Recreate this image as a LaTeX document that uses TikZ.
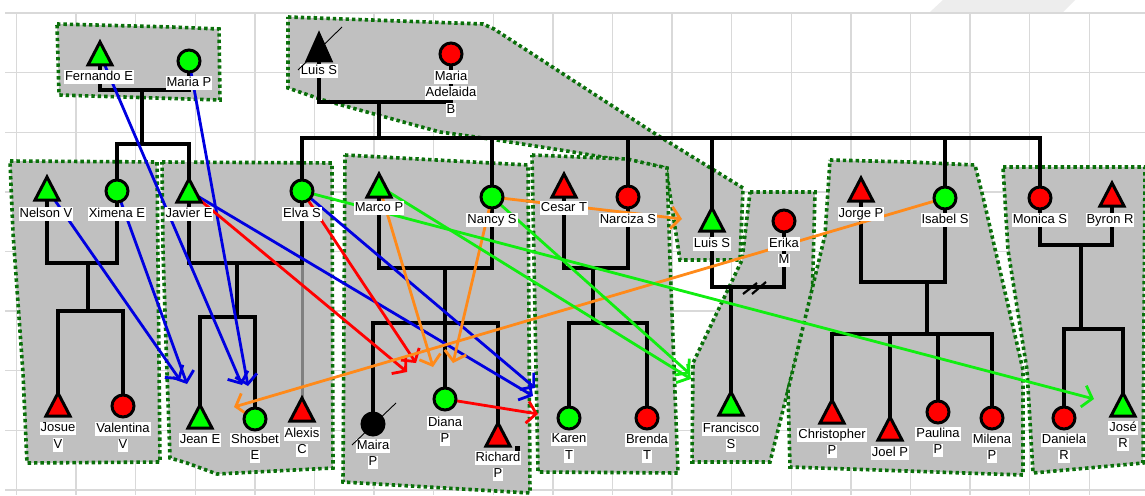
\documentclass[tikz,border=0pt]{standalone}
\usepackage{fontspec}
\setmainfont{Liberation Sans}
\usetikzlibrary{arrows.meta}
\definecolor{grpfill}{HTML}{C0C0C0}
\definecolor{grpbord}{HTML}{0A700A}
\definecolor{gridc}{HTML}{D9D9D9}
\definecolor{sgreen}{HTML}{00FF00}
\definecolor{sred}{HTML}{FF0000}
\definecolor{ablue}{HTML}{0000E0}
\definecolor{ared}{HTML}{FF0000}
\definecolor{aorange}{HTML}{FF8A1A}
\definecolor{agreen}{HTML}{11EE11}
\setlength{\fboxsep}{1pt}
\newcommand\lb[1]{\colorbox{white}{\rule[-2.5pt]{0pt}{10.5pt}#1}}
\begin{document}
\begin{tikzpicture}[x=1pt,y=-1pt,
  fam/.style={line width=3.6pt,black,line cap=rect},
  sym/.style={line width=3pt,draw=black,line join=miter},
  grp/.style={fill=grpfill,draw=grpbord,line width=3.6pt,dash pattern=on 3.4pt off 3pt},
  arr/.style={line width=2.8pt,-{Straight Barb[length=9pt,width=22pt]}},
  lbl/.style={inner sep=0pt,font=\fontsize{13}{16.5}\selectfont,align=center},
  pt/.style={inner sep=0pt,minimum size=0pt},
  pics/male/.style={code={\draw[sym,fill=#1] (0,-12) -- (12,11) -- (-12,11) -- cycle;}},
  pics/female/.style={code={\draw[sym,fill=#1] (0,0) circle (11);}},
]
\useasboundingbox (0,0) rectangle (1145,495);
\fill[white] (0,0) rectangle (1145,495);
\fill[black!7] (930,12) -- (1063,12) -- (1075,0) -- (943,0) -- cycle;
% grid
\foreach \i in {0,...,18} \draw[gridc,line width=1.4pt] ({16.5+59.6*\i},13) -- ({16.5+59.6*\i},495);
\foreach \j in {0,...,8} \draw[gridc,line width=1.4pt] (5,{13+59.6*\j}) -- (1145,{13+59.6*\j});
% groups
\draw[grp] (57,24) -- (172,27) -- (219,29) -- (220,100) -- (59,95) -- cycle;
\draw[grp] (288,17) -- (483,24) -- (494,29) -- (657,135) -- (743,188) -- (740,260) -- (680,260) -- (666,168) -- (573,152) -- (497,140) -- (440,132) -- (323,100) -- (288,88) -- cycle;
\draw[grp] (10,161) -- (157,162) -- (160,462) -- (27,463) -- (23,373) -- (13,233) -- cycle;
\draw[grp] (162,162) -- (332,163) -- (333,468) -- (217,474) -- (187,463) -- (170,458) -- (167,373) -- (163,250) -- cycle;
\draw[grp] (345,155) -- (528,165) -- (530,493) -- (343,482) -- cycle;
\draw[grp] (532,155) -- (627,159) -- (667,168) -- (670,260) -- (678,473) -- (538,472) -- cycle;
\draw[grp] (750,192) -- (815,192) -- (812,305) -- (788,390) -- (770,462) -- (692,462) -- (693,363) -- (742,260) -- cycle;
\draw[grp] (830,160) -- (910,162) -- (975,165) -- (983,197) -- (1023,370) -- (1023,475) -- (790,467) -- (788,390) -- (825,235) -- cycle;
\draw[grp] (1003,167) -- (1145,167) -- (1143,463) -- (1033,473) -- (1027,370) -- (1008,250) -- cycle;
% persons
\node[pt] (fer) at (100,54) {};
\node[pt] (mp) at (189,61) {};
\node[pt] (luis1) at (319,48) {};
\node[pt] (ma) at (451,54) {};
\node[pt] (nel) at (47,189) {};
\node[pt] (xim) at (117,191) {};
\node[pt] (jav) at (189,191) {};
\node[pt] (elva) at (302,191) {};
\node[pt] (marco) at (379,186) {};
\node[pt] (nancy) at (492,197) {};
\node[pt] (cesar) at (564,186) {};
\node[pt] (narc) at (628,197) {};
\node[pt] (luis2) at (712,220) {};
\node[pt] (erika) at (784,221) {};
\node[pt] (jorge) at (861,190) {};
\node[pt] (isabel) at (945,198) {};
\node[pt] (monica) at (1040,198) {};
\node[pt] (byron) at (1112,195) {};
\node[pt] (josue) at (58,405) {};
\node[pt] (val) at (123,406) {};
\node[pt] (jean) at (200,417) {};
\node[pt] (shos) at (255,419) {};
\node[pt] (alexis) at (302,410) {};
\node[pt] (maira) at (373,424) {};
\node[pt] (diana) at (445,399) {};
\node[pt] (richard) at (498,435) {};
\node[pt] (karen) at (569,418) {};
\node[pt] (brenda) at (647,418) {};
\node[pt] (fran) at (731,404) {};
\node[pt] (chris) at (832,412) {};
\node[pt] (joel) at (890,429) {};
\node[pt] (paul) at (938,412) {};
\node[pt] (mil) at (992,418) {};
\node[pt] (dan) at (1064,418) {};
\node[pt] (jose) at (1123,405) {};
% family lines
\coordinate (u1) at (142,90); \coordinate (s1) at (142,144);
\draw[fam] (fer) |- (u1) -| (mp);
\draw[fam] (u1) -- (s1);
\draw[fam] (xim) |- (s1) -| (jav);
\coordinate (u2) at (379,102); \coordinate (s2) at (379,138);
\draw[fam] (luis1) |- (u2) -| (ma);
\draw[fam] (u2) -- (s2);
\draw[fam] (elva) |- (s2) -| (monica);
\foreach \c in {nancy,narc,luis2,isabel} \draw[fam] (\c |- s2) -- (\c);
\coordinate (u3) at (88,263); \coordinate (s3) at (88,311);
\draw[fam] (nel) |- (u3) -| (xim);
\draw[fam] (u3) -- (s3);
\draw[fam] (josue) |- (s3) -| (val);
\coordinate (u4) at (237,263); \coordinate (s4) at (237,317);
\draw[gray,line width=3pt] (elva |- u4) -- (alexis);
\draw[fam] (jav) |- (u4) -| (elva);
\draw[fam] (u4) -- (s4);
\draw[fam] (jean) |- (s4) -| (shos);
\coordinate (u5) at (445,268); \coordinate (s5) at (445,323);
\draw[fam] (marco) |- (u5) -| (nancy);
\draw[fam] (u5) -- (s5);
\draw[fam] (maira) |- (s5) -| (richard);
\draw[fam] (diana |- s5) -- (diana);
\coordinate (u6) at (593,268); \coordinate (s6) at (593,323);
\draw[fam] (cesar) |- (u6) -| (narc);
\draw[fam] (u6) -- (s6);
\draw[fam] (karen) |- (s6) -| (brenda);
\coordinate (u7) at (731,287);
\draw[fam] (luis2) |- (u7) -| (erika);
\draw[fam] (u7) -- (fran);
\draw[line width=2.2pt] (743,294) -- (757,283) (752,294) -- (766,282);
\coordinate (u8) at (927,282); \coordinate (s8) at (927,334);
\draw[fam] (jorge) |- (u8) -| (isabel);
\draw[fam] (u8) -- (s8);
\draw[fam] (chris) |- (s8) -| (mil);
\draw[fam] (joel |- s8) -- (joel);
\draw[fam] (paul |- s8) -- (paul);
\coordinate (u9) at (1081,245); \coordinate (s9) at (1081,329);
\draw[fam] (monica) |- (u9) -| (byron);
\draw[fam] (u9) -- (s9);
\draw[fam] (dan) |- (s9) -| (jose);
% arrow ends
\coordinate (a1) at (180,380);
\coordinate (a2) at (187,384);
\coordinate (a3) at (242,385);
\coordinate (a4) at (248,386);
\coordinate (a5) at (533,396);
\coordinate (a6) at (535,388);
\coordinate (a7) at (407,372);
\coordinate (a8) at (416,363);
\coordinate (a9) at (538,414);
\coordinate (a10) at (433,367);
\coordinate (a11) at (453,363);
\coordinate (a12) at (682,219);
\coordinate (a13) at (234,407);
\coordinate (a14) at (1094,399);
\coordinate (a15) at (691,379);
\coordinate (a16) at (690,374);
% arrows
\draw[arr,ablue] (nel) -- (a1);
\draw[arr,ablue] (xim) -- (a2);
\draw[arr,ablue] (fer) -- (a3);
\draw[arr,ablue] (mp) -- (a4);
\draw[arr,ablue] (jav) -- (a5);
\draw[arr,ablue] (elva) -- (a6);
\draw[arr,ared] (jav) -- (a7);
\draw[arr,ared] (elva) -- (a8);
\draw[arr,ared] (diana) -- (a9);
\draw[arr,aorange] (marco) -- (a10);
\draw[arr,aorange] (nancy) -- (a11);
\draw[arr,aorange] (nancy) -- (a12);
\draw[arr,aorange] (isabel) -- (a13);
\draw[arr,agreen] (elva) -- (a14);
\draw[arr,agreen] (marco) -- (a15);
\draw[arr,agreen] (nancy) -- (a16);
% symbols
\pic at (fer) {male=sgreen};
\pic at (mp) {female=sgreen};
\draw[sym,fill=black] (luis1) ++(0,-14) -- ++(12,27) -- ++(-24,0) -- cycle;
\pic at (ma) {female=sred};
\pic at (nel) {male=sgreen};
\pic at (xim) {female=sgreen};
\pic at (jav) {male=sgreen};
\pic at (elva) {female=sgreen};
\pic at (marco) {male=sgreen};
\pic at (nancy) {female=sgreen};
\pic at (cesar) {male=sred};
\pic at (narc) {female=sred};
\pic at (luis2) {male=sgreen};
\pic at (erika) {female=sred};
\pic at (jorge) {male=sred};
\pic at (isabel) {female=sgreen};
\pic at (monica) {female=sred};
\pic at (byron) {male=sred};
\pic at (josue) {male=sred};
\pic at (val) {female=sred};
\pic at (jean) {male=sgreen};
\pic at (shos) {female=sgreen};
\pic at (alexis) {male=sred};
\pic at (maira) {female=black};
\pic at (diana) {female=sgreen};
\pic at (richard) {male=sred};
\pic at (karen) {female=sgreen};
\pic at (brenda) {female=sred};
\pic at (fran) {male=sgreen};
\pic at (chris) {male=sred};
\pic at (joel) {male=sred};
\pic at (paul) {female=sred};
\pic at (mil) {female=sred};
\pic at (dan) {female=sred};
\pic at (jose) {male=sgreen};
\fill[black] (514.5,445.5) rectangle (519.5,450.5);
% labels
\node[lbl] (lfer) at (99,77) {\lb{Fernando E}};
\node[lbl] (lmp) at (189,83) {\lb{Maria P}};
\node[lbl] (lluis1) at (319,71) {\lb{Luis S}};
\node[lbl,anchor=north] (lma) at (451,69.5) {\lb{Maria}\\\lb{Adelaida}\\\lb{B}};
\node[lbl] (lnel) at (46,214) {\lb{Nelson V}};
\node[lbl] (lxim) at (117,214) {\lb{Ximena E}};
\node[lbl] (ljav) at (189,214) {\lb{Javier E}};
\node[lbl] (lelva) at (302,214) {\lb{Elva S}};
\node[lbl] (lmarco) at (379,208) {\lb{Marco P}};
\node[lbl] (lnancy) at (492,220) {\lb{Nancy S}};
\node[lbl] (lcesar) at (564,208) {\lb{Cesar T}};
\node[lbl] (lnarc) at (628,220) {\lb{Narciza S}};
\node[lbl] (lluis2) at (712,244) {\lb{Luis S}};
\node[lbl,anchor=north] (lerika) at (784,236.5) {\lb{Erika}\\\lb{M}};
\node[lbl] (ljorge) at (861,214) {\lb{Jorge P}};
\node[lbl] (lisabel) at (945,220) {\lb{Isabel S}};
\node[lbl] (lmonica) at (1040,220) {\lb{Monica S}};
\node[lbl] (lbyron) at (1110,220) {\lb{Byron R}};
\node[lbl,anchor=north] (ljosue) at (58,421.5) {\lb{Josue}\\\lb{V}};
\node[lbl,anchor=north] (lval) at (123,421.5) {\lb{Valentina}\\\lb{V}};
\node[lbl] (ljean) at (200,440) {\lb{Jean E}};
\node[lbl,anchor=north] (lshos) at (255,432.5) {\lb{Shosbet}\\\lb{E}};
\node[lbl,anchor=north] (lalexis) at (302,426.5) {\lb{Alexis}\\\lb{C}};
\node[lbl,anchor=north] (lmaira) at (373,438.5) {\lb{Maira}\\\lb{P}};
\node[lbl,anchor=north] (ldiana) at (445,415.5) {\lb{Diana}\\\lb{P}};
\node[lbl,anchor=north] (lrichard) at (498,450.5) {\lb{Richard}\\\lb{P}};
\node[lbl,anchor=north] (lkaren) at (569,432.5) {\lb{Karen}\\\lb{T}};
\node[lbl,anchor=north] (lbrenda) at (647,432.5) {\lb{Brenda}\\\lb{T}};
\node[lbl,anchor=north] (lfran) at (731,421.5) {\lb{Francisco}\\\lb{S}};
\node[lbl,anchor=north] (lchris) at (832,427.5) {\lb{Christopher}\\\lb{P}};
\node[lbl] (ljoel) at (890,453) {\lb{Joel P}};
\node[lbl,anchor=north] (lpaul) at (938,426.5) {\lb{Paulina}\\\lb{P}};
\node[lbl,anchor=north] (lmil) at (992,432.5) {\lb{Milena}\\\lb{P}};
\node[lbl,anchor=north] (ldan) at (1064,432.5) {\lb{Daniela}\\\lb{R}};
\node[lbl,anchor=north] (ljose) at (1123,420.5) {\lb{José}\\\lb{R}};
% deceased marks
\draw[line width=0.9pt] (298,70) -- (342,27);
\draw[line width=0.9pt] (352,445) -- (396,403);
\end{tikzpicture}
\end{document}
